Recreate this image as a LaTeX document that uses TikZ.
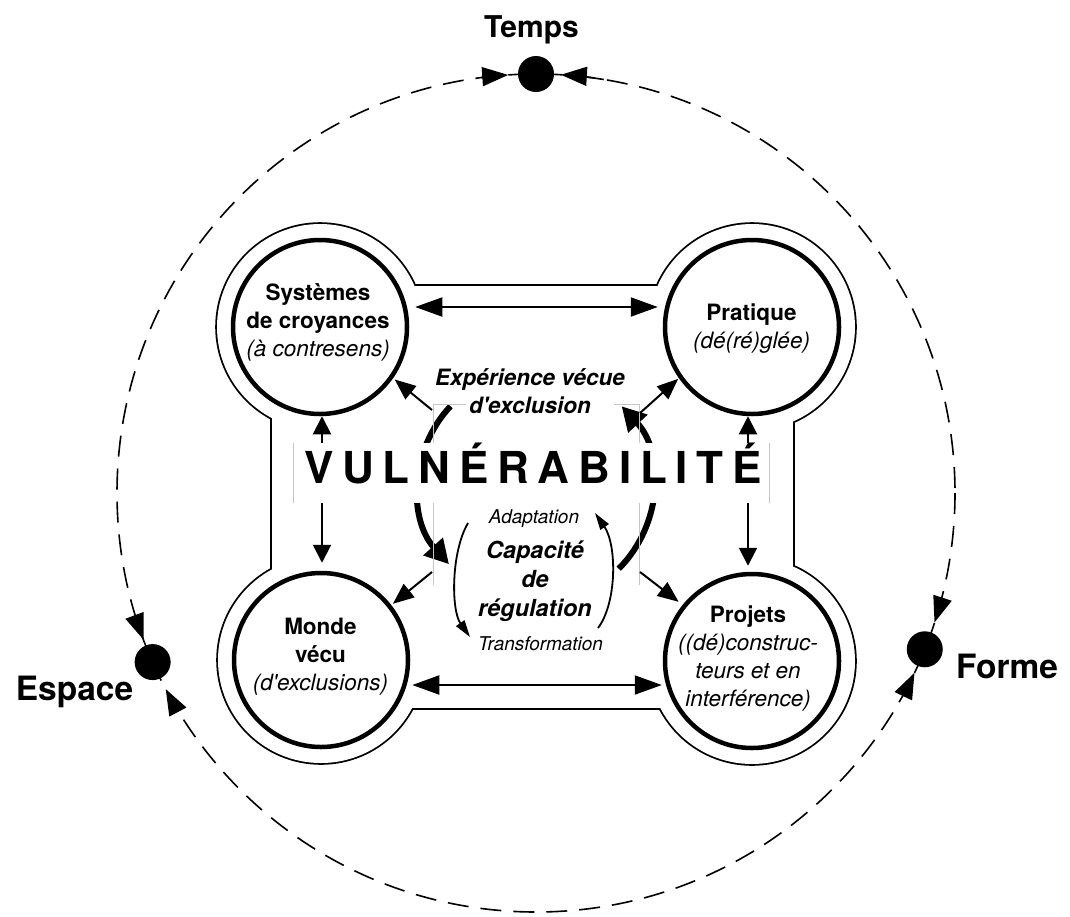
\documentclass[tikz,border=0pt]{standalone}
\usepackage{fontspec}
\setmainfont{TeX Gyre Heros}
\usetikzlibrary{arrows.meta}
\newcommand{\fsize}[2]{\fontsize{#1pt}{#2pt}\selectfont}
\begin{document}
\begin{tikzpicture}[x=1pt,y=-1pt,
  ringnode/.style={circle, draw, line width=4.5pt, fill=white, minimum size=174pt, inner sep=0pt},
  orbitdot/.style={circle, fill=black, minimum size=36pt, inner sep=0pt},
  orbit/.style={line width=1.6pt, dash pattern=on 21pt off 12pt},
  orbitarrow/.style={line width=1.6pt, -{Triangle[length=26pt,width=19pt]}},
  hlink/.style={line width=2pt, {Triangle[length=27pt,width=19pt]}-{Triangle[length=27pt,width=19pt]}},
  vlink/.style={line width=2pt, {Triangle[length=18pt,width=18pt]}-{Triangle[length=18pt,width=18pt]}},
  dlink/.style={line width=2pt, -{Triangle[length=21pt,width=17pt]}},
  cyclearc/.style={line width=6pt, -{Triangle[length=24pt,width=25pt]}},
  thinarc/.style={line width=1.8pt, -{Triangle[length=17pt,width=10pt]}},
  boxedge/.style={gray!45, line width=0.7pt},
  outline/.style={line width=3.6pt},
  biglabel/.style={font=\fsize{33.5}{40}\bfseries, anchor=base, inner sep=0pt},
  cornertext/.style={font=\fsize{22.5}{28}, align=center},
]
\useasboundingbox (0,0) rectangle (1070,916);

% outer dashed orbit with its three poles
\coordinate (O) at (536,493);
\draw[orbit] (O) circle[radius=419];
\draw[orbitarrow] ([shift={(O)}]-97.5:419) arc[start angle=-97.5, end angle=-93.8, radius=419];
\draw[orbitarrow] ([shift={(O)}]-80.7:419) arc[start angle=-80.7, end angle=-86.6, radius=419];
\draw[orbitarrow] ([shift={(O)}]163:419) arc[start angle=163, end angle=159.5, radius=419];
\draw[orbitarrow] ([shift={(O)}]148.6:419) arc[start angle=148.6, end angle=152.1, radius=419];
\draw[orbitarrow] ([shift={(O)}]14.6:419) arc[start angle=14.6, end angle=18, radius=419];
\draw[orbitarrow] ([shift={(O)}]28.9:419) arc[start angle=28.9, end angle=25.4, radius=419];
\node[orbitdot] (temps) at ([shift={(O)}]-90:419) {};
\node[orbitdot] (espace) at ([shift={(O)}]156.2:419) {};
\node[orbitdot] (forme) at ([shift={(O)}]21.9:419) {};
\node[biglabel, font=\fsize{30}{36}\bfseries] (tempsL) at (531.5,37) {Temps};
\node[biglabel] (espaceL) at (74.5,700) {Espace};
\node[biglabel] (formeL) at (1007,678) {Forme};

% thin outline around the four poles and the central square
\foreach \x/\y in {320/327,752/327,321/660,752/661}
  \draw[outline] (\x,\y) circle[radius=103];
\draw[outline] (272,286) rectangle (793,708);
\foreach \x/\y in {320/327,752/327,321/660,752/661}
  \fill[white] (\x,\y) circle[radius=103];
\fill[white] (272,286) rectangle (793,708);

% the four poles
\node[ringnode] (sys) at (320,327) {};
\node[ringnode] (prat) at (752,327) {};
\node[ringnode] (monde) at (321,660) {};
\node[ringnode] (proj) at (752,661) {};

% central cycle
\coordinate (C) at (536,486);
\draw[cyclearc] ([shift={(C)}]-137:117) arc[start angle=-137, end angle=-222, radius=117];
\draw[cyclearc] ([shift={(C)}]45:117) arc[start angle=45, end angle=-43, radius=117];

\coordinate (a1) at (468,523); \coordinate (a2) at (470,637);
\draw[thinarc] (a1) .. controls (451,552) and (451,610) .. (a2);
\coordinate (b1) at (598,628); \coordinate (b2) at (595,513);
\draw[thinarc] (b1) .. controls (617,603) and (617,545) .. (b2);

% light frame of the central block
\draw[boxedge] (433,585) -- (433,404) -- (466,404);
\draw[boxedge] (614,404) -- (639,404) -- (639,585);

% links between the poles
\draw[hlink, shorten <=6pt, shorten >=5pt] ([yshift=20pt]sys.east) -- ([yshift=20pt]prat.west);
\draw[hlink, shorten <=2pt, shorten >=1pt] ([yshift=-25pt]monde.east) -- ([yshift=-24pt]proj.west);
\draw[vlink, shorten >=8pt] ([xshift=2pt]sys.south) -- ([xshift=1pt]monde.north);
\draw[vlink, shorten >=6pt] ([xshift=-4pt]prat.south) -- ([xshift=-4pt]proj.north);

% from the centre out to the poles
\coordinate (d1) at (432,410); \draw[dlink, shorten >=2pt] (d1) -- (sys.-35);
\coordinate (d2) at (640,413); \draw[dlink, shorten >=1pt] (d2) -- (prat.-145);
\coordinate (d3) at (432,572); \draw[dlink, shorten >=2pt] (d3) -- (monde.38);
\coordinate (d4) at (640,572); \draw[dlink, shorten >=5pt] (d4) -- (proj.141);

% central word
\fill[white] (293,443) rectangle (769,503);
\draw[boxedge] (293,443) -- (293,503) (769,443) -- (769,503);
\node[font=\fsize{44}{50}\bfseries\addfontfeatures{LetterSpace=20}, anchor=base, inner sep=0pt] (vuln) at (533,483) {VULNÉRABILITÉ};

% central texts
\node[font=\fsize{22.5}{27.5}\bfseries\itshape, align=center] (exp) at (530,391) {Expérience vécue\\d\textquotesingle exclusion};
\node[font=\fsize{23.5}{29}\bfseries\itshape, align=center] (capa) at (535,581) {Capacité\\de\\régulation};
\node[font=\fsize{19}{23}\itshape, anchor=base] (adapt) at (534,523) {Adaptation};
\node[font=\fsize{19}{23}\itshape, anchor=base] (transf) at (540.5,650) {Transformation};

% pole texts
\node[cornertext] (sysT) at (318,322) {\textbf{Systèmes}\\\textbf{de croyances}\\\textit{(à contresens)}};
\node[cornertext] (pratT) at (751.5,329) {\textbf{Pratique}\\\textit{(dé(ré)glée)}};
\node[cornertext] (mondeT) at (320.5,657) {\textbf{Monde}\\\textbf{vécu}\\\textit{(d\textquotesingle exclusions)}};
\node[cornertext] (projT) at (748,658.5) {\textbf{Projets}\\\textit{((dé)construc-}\\\textit{teurs et en}\\\textit{interférence)}};
\end{tikzpicture}
\end{document}
